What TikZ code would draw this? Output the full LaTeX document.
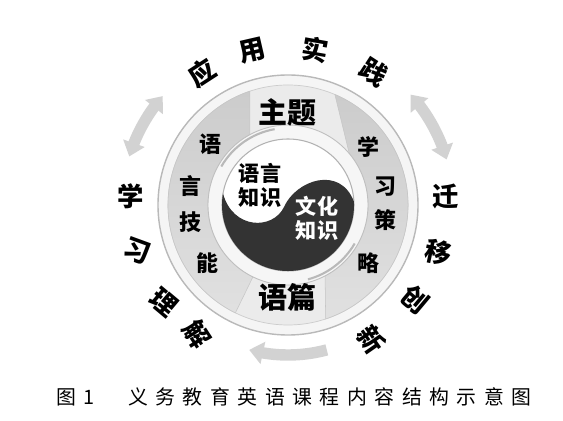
\documentclass[tikz,border=0pt]{standalone}
\usepackage{fontspec}
\newfontfamily\cjk{Noto Sans CJK SC}
\newfontfamily\capfont[LetterSpace=38]{Noto Sans CJK SC}
\usetikzlibrary{arrows.meta,bending}
\tikzset{
	outerch/.style={font=\cjk\bfseries\fontsize{15}{15}\selectfont, inner sep=0pt},
	bandch/.style={font=\cjk\bfseries\fontsize{12.5}{12.5}\selectfont, inner sep=0pt},
	themelbl/.style={font=\cjk\bfseries\fontsize{16.5}{16.5}\selectfont, inner sep=0pt},
	coretxt/.style={font=\cjk\bfseries\fontsize{12}{13.6}\selectfont, align=center, inner sep=0pt},
	bandfill/.style={top color=gray!40, bottom color=gray!24, draw=gray!45, line width=0.3pt},
	loopy/.style={draw=gray!35, line width=6.5pt}
}
\begin{document}
\begin{tikzpicture}[x=0.02cm,y=0.02cm]
		\useasboundingbox (-288,-216) rectangle (275,205);
		% disk and rings
		\draw[fill=gray!8, draw=gray!55, line width=0.8pt] (0,0) circle (130);
		\draw[fill=gray!16, draw=gray!40, line width=0.4pt] (0,0) circle (120);
		\shade[bandfill] (108.5:120) arc[start angle=108.5, end angle=244, radius=120] -- (244:80) arc[start angle=244, end angle=118.4, radius=80] -- cycle;
		\shade[bandfill] (67:120) arc[start angle=67, end angle=-71.7, radius=120] -- (-62.4:80) arc[start angle=-62.4, end angle=40, radius=80] -- cycle;
		\draw[fill=gray!7, draw=gray!50, line width=0.5pt] (0,0) circle (80);
		\draw[gray!55, line width=1.2pt] (100:77) arc (100:150:77);
		\draw[gray!55, line width=1.2pt] (-30:77) arc (-30:-75:77);
		% yin and yang
		\draw[fill=white, draw=gray!60, line width=0.6pt] (0,0) circle (66);
		\fill[black!80] (3:66) arc[start angle=3, end angle=-190, radius=66]
			.. controls (-55,-25) and (-15,-25) .. (-4,-2)
			.. controls (8,25) and (52,40) .. (3:66) -- cycle;
		\node[coretxt] (yuyan) at (-28,20) {语言\\知识};
		\node[coretxt, text=white] (wenhua) at (29,-13) {文化\\知识};
		% theme and text
		\node[themelbl] (zhuti) at (-1,93) {主题};
		\node[themelbl] (yupian) at (-1,-92) {语篇};
		\foreach \ang/\ch [count=\k] in {142/语,169/言,190/技,216/能}
			\node[bandch] (skill\k) at (\ang:99) {\ch};
		\foreach \ang/\ch [count=\k] in {36/学,11/习,-9/策,-36/略}
			\node[bandch] (strat\k) at (\ang:99) {\ch};
		% outer words (angle/tilt/char)
		\foreach \ang/\tilt/\ch [count=\k] in {123/33/应,103/13/用,80/-10/实,57/-33/践,177/0/学,197/-20/习,218/-40/理,235/-57/解,3/0/迁,-17.5/-12/移,-36.6/-40/创,-58/-55/新}
			\node[outerch, rotate=\tilt] (out\k) at (\ang:158) {\ch};
		% outer arrows
		\draw[loopy, {Triangle[length=8pt,width=12.5pt]}-{Triangle[length=8pt,width=12.5pt]}] (163:166) arc (163:139:166);
		\draw[loopy, {Triangle[length=8pt,width=12.5pt]}-{Triangle[length=8pt,width=12.5pt]}] (42:165) arc (42:16:165);
		\draw[loopy, -{Triangle[length=8pt,width=12.5pt]}] (-75:150) arc (-75:-105:150);
		\node[font=\capfont\fontsize{11.3}{11.3}\selectfont] (caption) at (6,-192) {图1\hspace{0.3em}　义务教育英语课程内容结构示意图};
	\end{tikzpicture}
\end{document}
